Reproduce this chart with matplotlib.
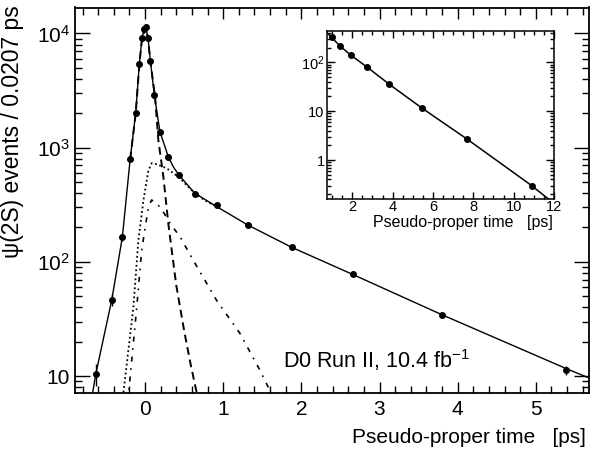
import matplotlib
matplotlib.use('Agg')
import matplotlib.pyplot as plt
from matplotlib.ticker import FixedLocator, MultipleLocator, LogLocator, NullFormatter

plt.rcParams['font.family'] = ['Liberation Sans', 'DejaVu Sans']
plt.rcParams['mathtext.fontset'] = 'custom'
plt.rcParams['mathtext.rm'] = 'Liberation Sans'
plt.rcParams['mathtext.it'] = 'Liberation Sans:italic'

# main panel: data points (events / 0.0207 ps)
t_data = [-0.63, -0.425, -0.29, -0.19, -0.119, -0.073, -0.038, -0.013, 0.009, 0.038, 0.068,
          0.119, 0.191, 0.29, 0.434, 0.634, 0.915, 1.315, 1.876, 2.667, 3.795, 5.39]
n_data = [10.4, 46.6, 165, 795, 2023, 5400, 9160, 10860, 11300, 9160, 5770,
          2905, 1370, 832, 575, 393, 314, 211, 135, 77.8, 34.2, 11.2]
n_err = [2.3, 5.6, 12, 25, 40, 65, 90, 100, 105, 90, 70,
         50, 33, 24, 18, 12, 9, 6, 4, 2.5, 1.5, 1.0]

# total fit (solid)
fit_t = [-0.68, -0.63, -0.425, -0.29, -0.19, -0.119, -0.073, -0.038, -0.013, 0.009, 0.038, 0.068,
         0.119, 0.191, 0.255, 0.298, 0.361, 0.434, 0.634, 0.915, 1.315, 1.876, 2.667, 3.795, 5.39, 5.7]
fit_n = [6.5, 10.4, 46.6, 165, 795, 2023, 5400, 9160, 10860, 11300, 9160, 5770,
         2905, 1370, 1020, 830, 680, 575, 400, 305, 210, 134, 77, 34.5, 11.6, 9.5]

# prompt component (dashed)
prompt_t = [-0.19, -0.119, -0.073, -0.038, 0.009, 0.038, 0.068, 0.128, 0.17, 0.234, 0.30, 0.40, 0.50, 0.58, 0.68]
prompt_n = [790, 2000, 5350, 9100, 11200, 9100, 5700, 2795, 1170, 560, 210, 62, 25, 13, 6.2]

# non-prompt component (dotted)
nonprompt_t = [-0.29, -0.277, -0.149, -0.085, -0.02, 0.043, 0.085, 0.15, 0.277, 0.425, 0.596, 0.75, 0.915]
nonprompt_n = [6.0, 7.1, 40, 155, 347, 630, 730, 715, 659, 556, 425, 350, 305]

# short-lived component (dash-dot)
short_t = [-0.22, -0.21, -0.106, -0.043, 0.043, 0.085, 0.20, 0.32, 0.45, 0.60, 0.75, 0.915, 1.213, 1.468, 1.65]
short_n = [6.0, 7.1, 40, 126, 302, 348, 300, 217, 165, 108, 72, 46, 23.7, 11.3, 6.3]

# inset: scaled distribution vs pseudo-proper time
in_t = [0.975, 1.39, 1.94, 2.75, 3.84, 5.45, 7.69, 10.89]
in_n = [325, 216, 139, 79, 35.4, 11.6, 2.68, 0.30]
in_err = [6, 4, 3, 1.5, 0.8, 0.3, 0.1, 0.045]
in_fit_t = [0.70, 0.975, 1.39, 1.94, 2.75, 3.84, 5.45, 7.69, 10.89, 11.8]
in_fit_n = [420, 325, 216, 139, 79, 35.4, 11.6, 2.68, 0.30, 0.15]

W, H = 592, 450
fig = plt.figure(figsize=(W / 100, H / 100), dpi=100)
ax = fig.add_axes([75 / W, 1 - 393 / H, (589 - 75) / W, (393 - 7.5) / H])

ax.plot(short_t, short_n, color='black', lw=1.2, ls=(0, (3, 4, 1, 4)), zorder=2)
ax.plot(nonprompt_t, nonprompt_n, color='black', lw=1.3, ls=(0, (1, 1.5)), zorder=2)
ax.plot(prompt_t, prompt_n, color='black', lw=1.4, ls=(0, (4, 2.5)), zorder=2)
ax.plot(fit_t, fit_n, color='black', lw=1.0, zorder=3)
ax.errorbar(t_data, n_data, yerr=n_err, fmt='o', color='black', ms=4, elinewidth=1,
            capsize=0, zorder=4)

ax.set_yscale('log')
ax.set_xlim(-0.896, 5.68)
ax.set_ylim(7.1, 16870)

ax.xaxis.set_major_locator(MultipleLocator(1))
ax.xaxis.set_minor_locator(MultipleLocator(0.2))
ax.yaxis.set_major_locator(FixedLocator([10, 100, 1000, 10000]))
ax.set_yticklabels(['10', '$10^{2}$', '$10^{3}$', '$10^{4}$'])
ax.yaxis.set_minor_locator(LogLocator(base=10, subs=range(2, 10)))
ax.yaxis.set_minor_formatter(NullFormatter())
ax.tick_params(which='both', direction='in', top=True, right=True, labelsize=15, width=1)
ax.tick_params(axis='x', which='major', length=8, pad=5)
ax.tick_params(axis='y', which='major', length=11, pad=3.5)
ax.tick_params(which='minor', length=5)
for s in ax.spines.values():
    s.set_linewidth(1.3)

fig.text(13 / W, 1 - 5 / H, 'ψ(2S) events / 0.0207 ps', rotation=90, ha='center', va='top',
         fontsize=16.5)
fig.text(586 / W, 1 - 442.7 / H, 'Pseudo-proper time   [ps]', ha='right', va='baseline', fontsize=15)
fig.text(283 / W, 1 - 368 / H, 'D0 Run II, 10.4 fb$^{-1}$', ha='left', va='baseline', fontsize=15.5)

# inset
axi = fig.add_axes([327.3 / W, 1 - 199.3 / H, (554 - 327.3) / W, (199.3 - 30.7) / H])
axi.plot(in_fit_t, in_fit_n, color='black', lw=1.1, zorder=3)
axi.errorbar(in_t, in_n, yerr=in_err, fmt='o', color='black', ms=4, elinewidth=1, capsize=0, zorder=4)
axi.set_yscale('log')
axi.set_xlim(0.76, 12)
axi.set_ylim(0.157, 445)
axi.xaxis.set_major_locator(MultipleLocator(2))
axi.xaxis.set_minor_locator(MultipleLocator(0.5))
axi.yaxis.set_major_locator(FixedLocator([1, 10, 100]))
axi.set_yticklabels(['1', '10', '$10^{2}$'])
axi.yaxis.set_minor_locator(LogLocator(base=10, subs=range(2, 10)))
axi.yaxis.set_minor_formatter(NullFormatter())
axi.tick_params(which='both', direction='in', top=True, right=True, labelsize=10.5, width=1)
axi.tick_params(axis='x', which='major', length=5, pad=0.5)
axi.tick_params(axis='y', which='major', length=6, pad=2)
axi.tick_params(which='minor', length=3)
for s in axi.spines.values():
    s.set_linewidth(1.1)
fig.text(552.7 / W, 1 - 227 / H, 'Pseudo-proper time   [ps]', ha='right', va='baseline', fontsize=11.5)

fig.savefig('out.png', dpi=100)
